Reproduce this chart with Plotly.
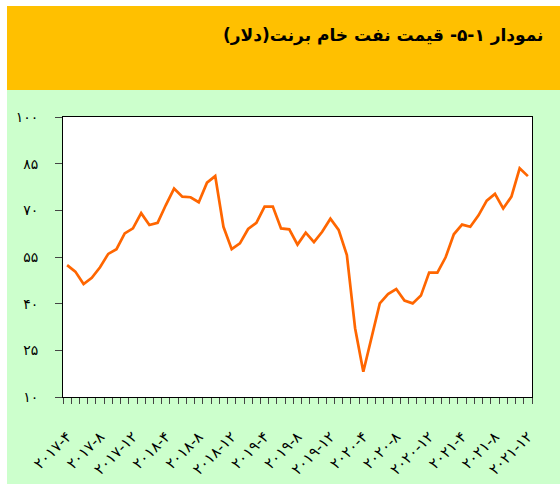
import plotly.graph_objects as go

PERSIAN = str.maketrans("0123456789", "۰۱۲۳۴۵۶۷۸۹")

def fa(s):
    return str(s).translate(PERSIAN)

# Months from 2017-4 to 2021-12 (category labels)
years = [2017] * 9 + [2018] * 12 + [2019] * 12 + [2020] * 12 + [2021] * 12
month_nums = list(range(4, 13)) + list(range(1, 13)) * 4
months = [fa(f"{y}-{m}") for y, m in zip(years, month_nums)]

# Brent crude price (USD)
brent = [52.4, 50.3, 46.3, 48.3, 51.7, 56.0, 57.5, 62.6, 64.2, 69.1,
         65.3, 66.0, 71.7, 77.0, 74.4, 74.2, 72.6, 78.9, 81.0, 64.7,
         57.5, 59.4, 64.0, 66.0, 71.2, 71.2, 64.2, 63.9, 59.0, 62.8,
         59.8, 63.1, 67.3, 63.7, 55.6, 32.1, 18.1, 29.4, 40.1, 43.1,
         44.7, 41.0, 40.1, 42.6, 50.0, 50.0, 54.9, 62.3, 65.4, 64.7,
         68.4, 73.1, 75.3, 70.6, 74.4, 83.5, 81.0]

# x tick labels every 4 months
x_ticktext = [m if i % 4 == 0 else "" for i, m in enumerate(months)]

y_tickvals = [10, 25, 40, 55, 70, 85, 100]
y_ticktext = [fa(v) for v in y_tickvals]

title_text = "نمودار ۱-۵- قیمت نفت خام برنت(دلار)" + "\u200f"

FONT = "DejaVu Sans"

fig = go.Figure()
fig.add_trace(go.Scatter(
    x=months, y=brent, mode="lines",
    line=dict(color="#FF6600", width=2.7),
    hoverinfo="skip",
))

# layout geometry: plot area px x 63..532, y 117..397
L, R, T, B = 63, 532, 117, 397
W, H = R - L, B - T

def px_x(p):
    return (p - L) / W

def px_y(p):
    return (B - p) / H

shapes = [
    dict(type="rect", xref="paper", yref="paper", layer="below",
         x0=px_x(7), x1=px_x(560), y0=px_y(484), y1=px_y(90),
         fillcolor="#CCFFCC", line=dict(width=0)),
    dict(type="rect", xref="paper", yref="paper", layer="below",
         x0=px_x(7), x1=px_x(560), y0=px_y(90), y1=px_y(6),
         fillcolor="#FFC000", line=dict(width=0)),
    dict(type="rect", xref="paper", yref="paper", layer="below",
         x0=0, x1=1, y0=0, y1=1,
         fillcolor="white", line=dict(width=0)),
]

fig.update_layout(
    width=560, height=484,
    margin=dict(l=L, r=560 - R, t=T, b=484 - B, pad=0, autoexpand=False),
    paper_bgcolor="white", plot_bgcolor="white",
    showlegend=False,
    shapes=shapes,
    font=dict(family=FONT, color="black"),
    annotations=[dict(
        xref="paper", yref="paper", x=px_x(546), y=px_y(36),
        xanchor="right", yanchor="middle", showarrow=False,
        text=title_text,
        font=dict(family=FONT, size=17, color="black", weight="bold"),
    )],
)

fig.update_xaxes(
    type="category", range=[-0.5, len(months) - 0.5],
    showline=True, linecolor="black", linewidth=1, mirror=True,
    showgrid=False, zeroline=False, automargin=False,
    ticks="outside", ticklen=6, tickcolor="#444444", tickwidth=1,
    tickson="boundaries",
    tickmode="array", tickvals=months, ticktext=x_ticktext,
    tickangle=-45, ticklabelstandoff=24,
    tickfont=dict(family=FONT, size=15, color="black"),
)

fig.update_yaxes(
    range=[10, 100],
    showline=True, linecolor="black", linewidth=1, mirror=True,
    showgrid=False, zeroline=False, automargin=False,
    ticks="outside", ticklen=7, tickcolor="#444444", tickwidth=1,
    tickmode="array", tickvals=y_tickvals, ticktext=y_ticktext,
    ticklabelstandoff=14,
    tickfont=dict(family=FONT, size=14, color="black"),
)

fig.write_html(
    "out.html",
    config={"displayModeBar": False},
    post_script="document.body.style.margin='0';document.body.style.overflow='hidden';",
)
